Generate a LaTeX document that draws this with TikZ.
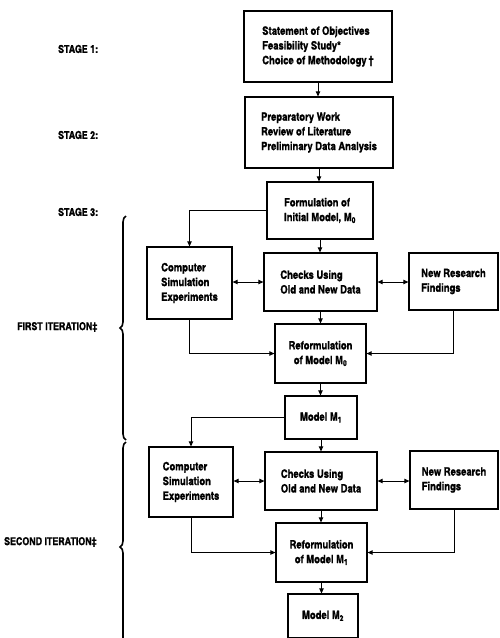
\documentclass[tikz,border=0pt]{standalone}
\usepackage{fontspec}
\setmainfont{texgyreheroscn-bold.otf}[FakeBold=1.2]
\usetikzlibrary{arrows.meta,decorations.pathreplacing}
\begin{document}
\begin{tikzpicture}[x=1pt,y=-1pt,
  box/.style={draw, line width=1.25pt, inner sep=0pt, align=left,
    font=\fontsize{11.5}{14.7}\selectfont},
  cbox/.style={box, align=center},
  lbl/.style={anchor=west, inner sep=0pt, font=\fontsize{10.8}{12}\selectfont},
  arr/.style={line width=1pt, -{Triangle[length=5pt,width=4.5pt]}},
  darr/.style={line width=1pt, {Triangle[length=5pt,width=4.5pt]}-{Triangle[length=5pt,width=4.5pt]}},
  brc/.style={line width=1.6pt, decorate, decoration={brace, amplitude=6pt}}]
\useasboundingbox (0,0) rectangle (499,638);

% stage labels
\node[lbl] (s1) at (58,49) {STAGE 1:};
\node[lbl] (s2) at (58,135) {STAGE 2:};
\node[lbl] (s3) at (58,212) {STAGE 3:};
\node[lbl] (it1) at (17,327) {FIRST ITERATION‡};
\node[lbl] (it2) at (4,542) {SECOND ITERATION‡};

% braces
\draw[brc] (126,440) -- (126,216);
\draw[brc] (126,652) -- (126,442);

% boxes
\node[box, minimum width=148pt, minimum height=71pt] (b1) at (318,46.5)
  {Statement of Objectives\\Feasibility Study*\\Choice of Methodology\,†};
\node[box, minimum width=148pt, minimum height=71pt] (b2) at (319,132.5)
  {Preparatory Work\\Review of Literature\\Preliminary Data Analysis};
\node[box, minimum width=106pt, minimum height=57pt] (b3) at (320,210.5)
  {Formulation of\\Initial Model, M\textsubscript{0}};

\node[box, minimum width=85pt, minimum height=72pt] (c1) at (189.5,283)
  {Computer\\Simulation\\Experiments};
\node[box, minimum width=113pt, minimum height=58pt] (k1) at (320.5,282)
  {Checks Using\\Old and New Data};
\node[box, minimum width=89pt, minimum height=57pt] (n1) at (453.5,281.5)
  {New Research\\Findings};
\node[cbox, minimum width=91pt, minimum height=59pt] (r1) at (320.5,353.5)
  {Reformulation\\of Model M\textsubscript{0}};
\node[cbox, minimum width=72pt, minimum height=43pt] (m1) at (321,417.5)
  {Model M\textsubscript{1}};

\node[box, minimum width=84pt, minimum height=70pt] (c2) at (191,482)
  {Computer\\Simulation\\Experiments};
\node[box, minimum width=112pt, minimum height=58pt] (k2) at (321,481)
  {Checks Using\\Old and New Data};
\node[box, minimum width=88pt, minimum height=58pt] (n2) at (454,480)
  {New Research\\Findings};
\node[cbox, minimum width=91pt, minimum height=59pt] (r2) at (321.5,552.5)
  {Reformulation\\of Model M\textsubscript{1}};
\node[cbox, minimum width=70pt, minimum height=43.5pt] (m2) at (323,615.75)
  {Model M\textsubscript{2}};

% connectors
\draw[arr] (b1.south) -- (b1.south |- b2.north);
\draw[arr] (b2.south) -- (b2.south |- b3.north);
\draw[arr] (b3.south) -- (b3.south |- k1.north);
\draw[arr] (b3.west) -| (c1.north);
\draw[darr] (c1.east |- k1) -- (k1.west);
\draw[darr] (k1.east) -- (n1.west |- k1);
\draw[arr] (k1.south) -- (k1.south |- r1.north);
\draw[arr] (c1.south) |- (r1.west);
\draw[arr] (n1.south) |- (r1.east);
\draw[arr] (r1.south) -- (r1.south |- m1.north);

\draw[arr] (m1.west) -| (c2.north);
\draw[arr] (m1.south) -- (m1.south |- k2.north);
\draw[darr] (c2.east |- k2) -- (k2.west);
\draw[darr] (k2.east) -- (n2.west |- k2);
\draw[arr] (k2.south) -- (k2.south |- r2.north);
\draw[arr] (c2.south) |- (r2.west);
\draw[arr] (n2.south) |- (r2.east);
\draw[arr] (r2.south) -- (r2.south |- m2.north);
\end{tikzpicture}
\end{document}
